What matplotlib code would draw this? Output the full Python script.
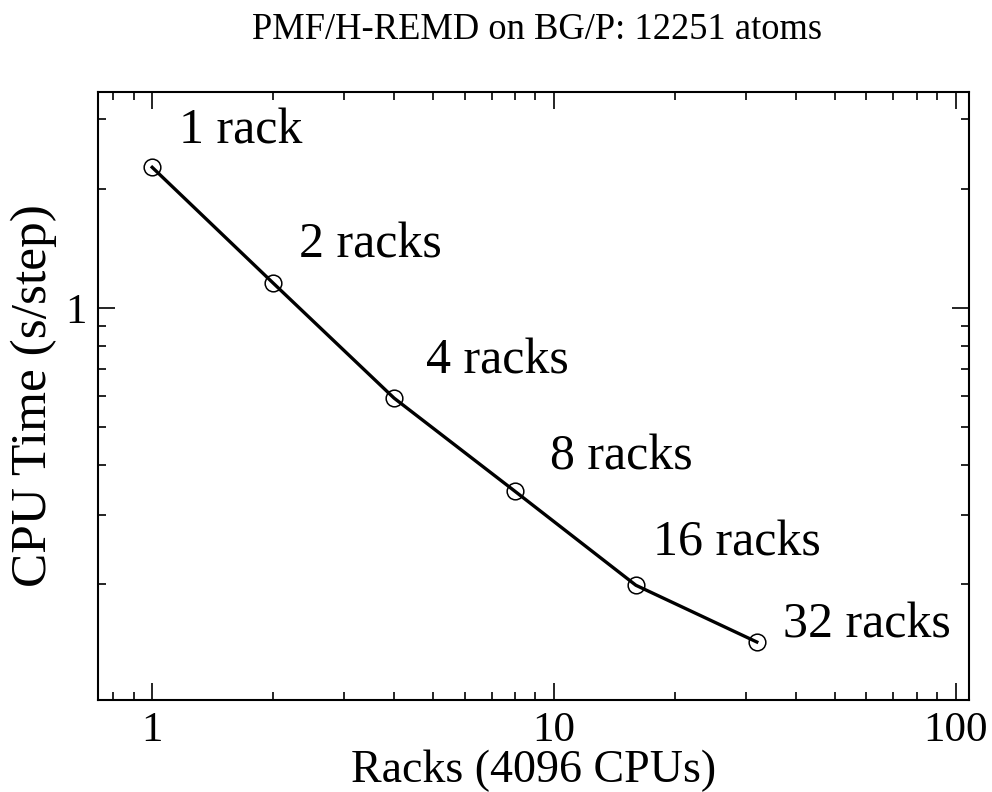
import matplotlib
matplotlib.use("Agg")
import matplotlib.pyplot as plt
from matplotlib.ticker import LogLocator, FixedLocator, NullFormatter, FixedFormatter

racks = [1, 2, 4, 8, 16, 32]
cpu_time = [2.27, 1.157, 0.592, 0.344, 0.199, 0.143]
labels = ["1 rack", "2 racks", "4 racks", "8 racks", "16 racks", "32 racks"]
x_ticks = [1, 10, 100]
x_tick_labels = ["1", "10", "100"]
y_ticks = [1]
y_tick_labels = ["1"]

# label offsets from each point (points), layout only
label_offsets = [(19.4, 17.3), (18.7, 18.7), (23.0, 18.0), (25.2, 15.8), (12.2, 21.6), (18.7, 2.9)]

plt.rcParams['font.family'] = ['Liberation Serif', 'DejaVu Serif']

fig = plt.figure(figsize=(9.92, 7.92), dpi=100)
ax = fig.add_axes([98/992, 1-700/792, 871/992, 608/792])

ax.plot(racks, cpu_time, color='black', lw=2.4, zorder=2)
ax.plot(racks, cpu_time, 'o', ms=12, mfc='none', mec='black', mew=1.1, zorder=3)

ax.set_xscale('log')
ax.set_yscale('log')
ax.set_xlim(0.733, 108)
ax.set_ylim(0.102, 3.52)

ax.xaxis.set_major_locator(FixedLocator(x_ticks))
ax.xaxis.set_major_formatter(FixedFormatter(x_tick_labels))
ax.xaxis.set_minor_locator(LogLocator(base=10, subs=range(2, 10)))
ax.xaxis.set_minor_formatter(NullFormatter())
ax.yaxis.set_major_locator(FixedLocator(y_ticks))
ax.yaxis.set_major_formatter(FixedFormatter(y_tick_labels))
ax.yaxis.set_minor_locator(LogLocator(base=10, subs=range(2, 10)))
ax.yaxis.set_minor_formatter(NullFormatter())

ax.tick_params(which='both', direction='in', top=True, right=True, width=1.2, labelsize=31)
ax.tick_params(which='major', length=12.5, pad=8)
ax.tick_params(which='minor', length=6)
for s in ax.spines.values():
    s.set_linewidth(1.5)

for xv, yv, lab, off in zip(racks, cpu_time, labels, label_offsets):
    ax.annotate(lab, (xv, yv), xytext=off, textcoords='offset points',
                fontsize=36, ha='left', va='baseline')

ax.set_xlabel("Racks (4096 CPUs)", fontsize=33, labelpad=0)
ax.set_ylabel("CPU Time (s/step)", fontsize=37, labelpad=6)
fig.text(537/992, 1-30/792, "PMF/H-REMD on BG/P: 12251 atoms", fontsize=26.3,
         ha='center', va='center')

fig.savefig("out.png", dpi=100)
